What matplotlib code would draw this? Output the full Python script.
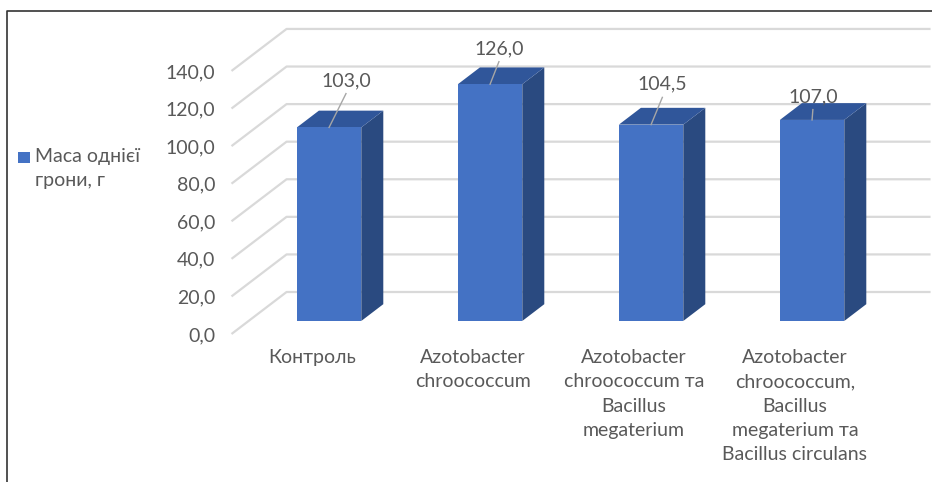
import numpy as np
import matplotlib.pyplot as plt
from matplotlib.patches import Polygon, Rectangle
from matplotlib.lines import Line2D

plt.rcParams['font.family'] = ['Lato', 'DejaVu Sans']

categories = ['Контроль',
              'Azotobacter\nchroococcum',
              'Azotobacter\nchroococcum та\nBacillus\nmegaterium',
              'Azotobacter\nchroococcum,\nBacillus\nmegaterium та\nBacillus circulans']
values = [103.0, 126.0, 104.5, 107.0]
value_labels = ['103,0', '126,0', '104,5', '107,0']
ticks = np.arange(0, 141, 20)
series_name = 'Маса однієї\nгрони, г'

# moved data labels: offset from the bar's front-top centre (category units, value units)
label_dx = [0.105, 0.055, 0.07, 0.005]
label_dy = [25.0, 19.0, 21.5, 12.5]

FRONT = '#4472C4'
TOP = '#30569A'
SIDE = '#2A4A80'
GRID = '#D9D9D9'
TXT = '#595959'
FS = 14

# oblique projection of the 3D column chart
DX = 0.342   # depth shift in category units
DY = 22.35   # depth shift in value units
D0, D1 = 0.31, 0.71   # bar depth range
HW = 0.2     # bar half width


def P(c, v, d):
    return (c + d * DX, v + d * DY)


fig = plt.figure(figsize=(9.32, 4.82), dpi=100)
ax = fig.add_axes([0, 0, 1, 1])
ax.set_xlim(-312 / 161, (932 - 312) / 161)
ax.set_ylim(-148 / 1.879, (482 - 148) / 1.879)
ax.axis('off')

n = len(categories)
for t in ticks:
    xs, ys = zip(P(-0.5, t, 0), P(-0.5, t, 1), P(n - 0.5, t, 1))
    ax.plot(xs, ys, color=GRID, lw=1.6, solid_capstyle='butt', zorder=1)
    ax.text(-0.6, t - 0.8, f'{t:.1f}'.replace('.', ','), ha='right', va='center',
            fontsize=FS, color=TXT)

for i, v in enumerate(values):
    front = [P(i - HW, 0, D0), P(i + HW, 0, D0), P(i + HW, v, D0), P(i - HW, v, D0)]
    side = [P(i + HW, 0, D0), P(i + HW, 0, D1), P(i + HW, v, D1), P(i + HW, v, D0)]
    top = [P(i - HW, v, D0), P(i + HW, v, D0), P(i + HW, v, D1), P(i - HW, v, D1)]
    ax.add_patch(Polygon(side, closed=True, fc=SIDE, ec='none', zorder=3))
    ax.add_patch(Polygon(top, closed=True, fc=TOP, ec='none', zorder=3))
    ax.add_patch(Polygon(front, closed=True, fc=FRONT, ec='none', zorder=4))

    # data label with leader line
    bx, by = P(i, v, D0)
    lx, ly = bx + label_dx[i], by + label_dy[i]
    ax.plot([bx, lx], [by, ly - 7], color='#A6A6A6', lw=1, zorder=5)
    ax.text(lx, ly, value_labels[i], ha='center', va='center', fontsize=FS,
            color=TXT, zorder=6)

    ax.text(i, -8.0, categories[i], ha='center', va='top', fontsize=FS,
            color=TXT, linespacing=1.52)

# legend
fig.patches.append(Rectangle((18 / 932, 1 - 163 / 482), 12 / 932, 11 / 482,
                             transform=fig.transFigure, fc=FRONT, ec='none'))
fig.text(35 / 932, 1 - 148 / 482, series_name, ha='left', va='top', fontsize=FS,
         color=TXT, linespacing=1.52)

# chart border
fig.lines.append(Line2D([6.5 / 932, 6.5 / 932, 1], [0, 1 - 10.5 / 482, 1 - 10.5 / 482],
                        transform=fig.transFigure, color='#333333', lw=1.2))

fig.savefig('out.png', dpi=100)
